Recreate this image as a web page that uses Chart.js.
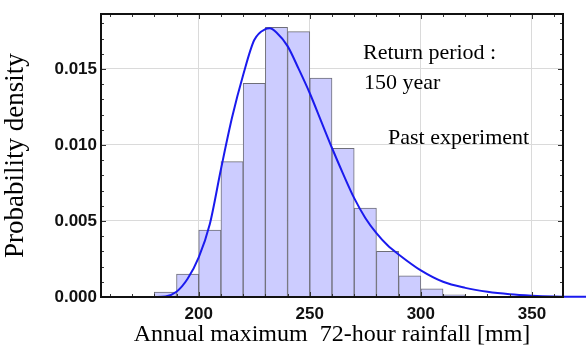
<!DOCTYPE html>
<html lang="en">
<head>
    <meta charset="UTF-8">
    <title>Annual maximum 72-hour rainfall</title>
    <script src="https://cdn.jsdelivr.net/npm/chart.js"></script>
    <style>
        html, body { margin: 0; padding: 0; background: #fff; overflow: hidden; }
        #wrap { width: 586px; height: 349px; }
    </style>
</head>
<body>
    <div id="wrap"><canvas id="rainChart"></canvas></div>
    <script>
        // histogram bins (centre of each 10 mm bin) and density
        const binCenters = [175, 185, 195, 205, 215, 225, 235, 245, 255, 265, 275, 285, 295, 305, 315];
        const binDensity = [0.00005, 0.00032, 0.0015, 0.0044, 0.0089, 0.01406, 0.01774, 0.01745,
                            0.0144, 0.00978, 0.00585, 0.0030, 0.00139, 0.00054, 0.00015];

        // fitted density curve
        const curveX = [180, 185, 190, 195, 200, 205, 210, 215, 220, 225, 230, 232, 235, 240, 245,
                        250, 255, 260, 265, 270, 275, 280, 285, 290, 300, 310, 320, 330, 340, 350, 360, 375];
        const curveY = [0.0, 0.00004, 0.00035, 0.0012, 0.0026, 0.0048, 0.0084, 0.0118, 0.0146, 0.0169,
                        0.01762, 0.01767, 0.0174, 0.0165, 0.0150, 0.0134, 0.0116, 0.0098, 0.0081, 0.0065,
                        0.0052, 0.0042, 0.0034, 0.0028, 0.00175, 0.0010, 0.0006, 0.00034, 0.00018,
                        0.00009, 0.00004, 0.00001];

        const xTicks = [200, 250, 300, 350];
        const yTicks = [0, 0.005, 0.010, 0.015];

        const notes = ['Return period :', '150 year', 'Past experiment'];

        const sans = "'Liberation Sans', Arial, sans-serif";
        const serif = "'Liberation Serif', 'Times New Roman', serif";

        // frame + small inward ticks like the original plot, then the notes
        const framePlugin = {
            id: 'frame',
            afterDraw(chart) {
                const { ctx, chartArea: a, scales } = chart;
                const L = Math.round(a.left), R = Math.round(a.right);
                const T = Math.round(a.top), B = Math.round(a.bottom);
                ctx.save();
                ctx.fillStyle = '#333';
                for (let v = 160; v <= 360; v += 10) {
                    const px = Math.round(scales.x.getPixelForValue(v));
                    const len = v % 50 === 0 ? 5 : 3;
                    ctx.fillRect(px, B - len, 1, len);
                    ctx.fillRect(px, T, 1, len);
                }
                for (let i = 1; i <= 18; i++) {
                    const py = Math.round(scales.y.getPixelForValue(i / 1000));
                    const len = i % 5 === 0 ? 5 : 3;
                    ctx.fillRect(L, py, len, 1);
                    ctx.fillRect(R - len, py, len, 1);
                }
                ctx.fillStyle = '#111';
                ctx.fillRect(L, T - 1, R - L, 2);          // top
                ctx.fillRect(R - 1, T - 1, 2, B - T + 2);  // right
                ctx.fillRect(L - 1, T - 1, 2, B - T + 2);  // left
                ctx.fillRect(L - 1, B - 1, R - L + 2, 2);  // bottom

                ctx.fillStyle = '#000';
                ctx.font = '22px ' + serif;
                ctx.textBaseline = 'alphabetic';
                ctx.fillText(notes[0], 363, 59);
                ctx.fillText(notes[1], 364, 89);
                ctx.fillText(notes[2], 388, 144);
                ctx.restore();
            }
        };

        const ctx = document.getElementById('rainChart').getContext('2d');
        new Chart(ctx, {
            type: 'bar',
            data: {
                datasets: [{
                    type: 'line',
                    data: curveX.map((x, i) => ({ x: x, y: curveY[i] })),
                    borderColor: '#1a1aee',
                    borderWidth: 2,
                    pointRadius: 0,
                    cubicInterpolationMode: 'monotone',
                    clip: false,
                    order: 0
                }, {
                    type: 'bar',
                    data: binCenters.map((x, i) => ({ x: x, y: binDensity[i] })),
                    backgroundColor: 'rgb(204, 204, 255)',
                    borderColor: '#6e6e78',
                    borderWidth: 1,
                    barPercentage: 1.0,
                    categoryPercentage: 1.0,
                    order: 1
                }]
            },
            options: {
                responsive: true,
                maintainAspectRatio: false,
                animation: false,
                layout: { padding: { left: 0, right: 23, top: 12, bottom: 0 } },
                plugins: {
                    legend: { display: false },
                    tooltip: { enabled: false }
                },
                scales: {
                    x: {
                        type: 'linear',
                        min: 156,
                        max: 364,
                        offset: false,
                        afterBuildTicks: s => { s.ticks = xTicks.map(v => ({ value: v })); },
                        afterFit: s => { s.height = 52; },
                        grid: { color: '#dadada', drawTicks: false, offset: false },
                        border: { display: false },
                        ticks: {
                            color: '#111',
                            padding: 7,
                            maxRotation: 0,
                            font: { family: sans, size: 17, weight: 'bold' }
                        },
                        title: {
                            display: true,
                            text: 'Annual maximum  72-hour rainfall [mm]',
                            color: '#000',
                            font: { family: serif, size: 24 },
                            padding: { top: 0, bottom: 0 }
                        }
                    },
                    y: {
                        min: 0,
                        max: 0.0186,
                        afterBuildTicks: s => { s.ticks = yTicks.map(v => ({ value: v })); },
                        afterFit: s => { s.width = 101; },
                        grid: { color: '#dadada', drawTicks: false },
                        border: { display: false },
                        ticks: {
                            color: '#111',
                            padding: 4,
                            font: { family: sans, size: 17, weight: 'bold' },
                            callback: v => v.toFixed(3)
                        },
                        title: {
                            display: true,
                            text: 'Probability density',
                            color: '#000',
                            font: { family: serif, size: 27 },
                            padding: { top: 0, bottom: 0 }
                        }
                    }
                }
            },
            plugins: [framePlugin]
        });
    </script>
</body>
</html>
